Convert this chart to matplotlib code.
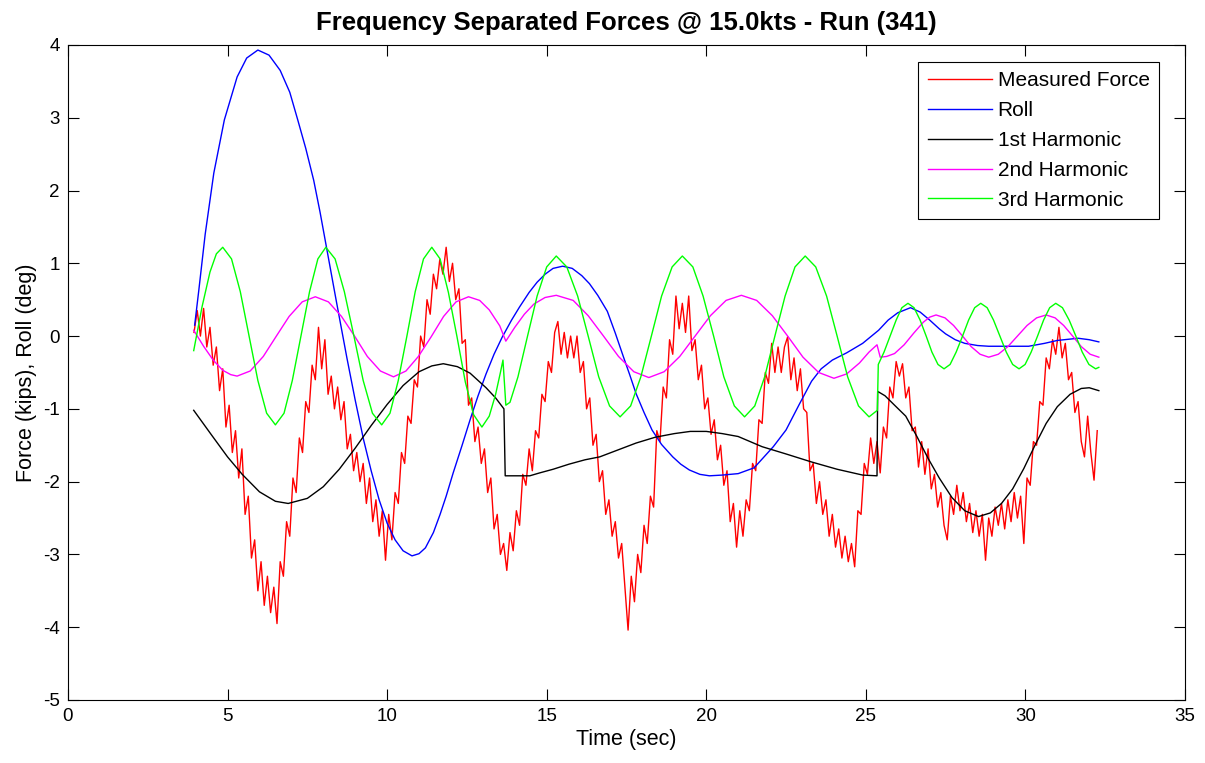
import numpy as np
import matplotlib
matplotlib.use("Agg")
import matplotlib.pyplot as plt

plt.rcParams['font.family'] = ['Liberation Sans', 'DejaVu Sans']
plt.rcParams['axes.unicode_minus'] = False

# measured force, sampled every 0.1 s from 3.95 s
force_t0 = 3.95
force_dt = 0.1
measured_force = [
    0.05, 0.35, 0.0, 0.38, -0.15, 0.12, -0.4, -0.15, -0.75, -0.45,
    -1.25, -0.95, -1.6, -1.3, -1.95, -1.55, -2.45, -2.2, -3.05, -2.8,
    -3.5, -3.1, -3.7, -3.3, -3.8, -3.45, -3.95, -3.1, -3.3, -2.55,
    -2.75, -1.95, -2.15, -1.4, -1.6, -0.9, -1.05, -0.4, -0.6, 0.12,
    -0.45, -0.05, -0.8, -0.55, -1.0, -0.7, -1.15, -0.9, -1.55, -1.35,
    -1.85, -1.6, -2.0, -1.75, -2.3, -1.95, -2.55, -2.25, -2.75, -2.4,
    -3.08, -2.45, -2.8, -2.15, -2.3, -1.6, -1.75, -1.1, -1.2, -0.6,
    -0.7, 0.0, -0.15, 0.5, 0.3, 0.85, 0.65, 1.05, 0.85, 1.22,
    0.75, 1.0, 0.5, 0.65, -0.1, -0.05, -0.95, -0.85, -1.45, -1.25,
    -1.75, -1.55, -2.15, -1.95, -2.65, -2.45, -3.0, -2.85, -3.22, -2.7,
    -2.95, -2.4, -2.6, -1.9, -2.05, -1.55, -1.85, -1.3, -1.4, -0.8,
    -0.9, -0.35, -0.5, 0.05, 0.2, -0.25, 0.05, -0.3, 0.0, -0.3,
    0.0, -0.5, -0.35, -1.0, -0.85, -1.5, -1.35, -2.0, -1.85, -2.45,
    -2.25, -2.75, -2.55, -3.05, -2.85, -3.45, -4.04, -3.3, -3.65, -3.0,
    -3.25, -2.6, -2.85, -2.2, -2.35, -1.3, -1.45, -0.7, -0.85, -0.05,
    -0.25, 0.55, 0.1, 0.45, 0.05, 0.55, -0.2, -0.05, -0.6, -0.4,
    -1.0, -0.85, -1.35, -1.15, -1.7, -1.5, -2.05, -1.85, -2.55, -2.3,
    -2.9, -2.4, -2.75, -2.25, -2.4, -1.75, -1.85, -1.15, -1.2, -0.5,
    -0.65, -0.1, -0.5, -0.15, -0.5, -0.15, -0.01, -0.6, -0.3, -0.75,
    -0.45, -1.0, -1.05, -1.85, -1.75, -2.3, -2.0, -2.45, -2.25, -2.75,
    -2.45, -2.9, -2.65, -3.05, -2.75, -3.1, -2.85, -3.17, -2.4, -2.45,
    -1.75, -1.9, -1.4, -1.75, -1.45, -1.88, -1.25, -1.4, -0.7, -0.85,
    -0.35, -0.55, -0.38, -0.85, -0.7, -1.3, -1.25, -1.8, -1.45, -1.9,
    -1.55, -2.1, -1.9, -2.35, -2.15, -2.6, -2.8, -2.2, -2.45, -2.05,
    -2.4, -2.15, -2.55, -2.3, -2.7, -2.4, -2.75, -2.45, -3.08, -2.5,
    -2.75, -2.35, -2.6, -2.3, -2.65, -2.25, -2.55, -2.15, -2.5, -2.2,
    -2.85, -1.95, -2.05, -1.45, -1.5, -0.9, -0.95, -0.3, -0.45, -0.05,
    -0.25, 0.12, -0.3, -0.1, -0.6, -0.5, -1.05, -0.9, -1.45, -1.66,
    -1.1, -1.6, -1.98, -1.3,
]

roll_t = [3.97, 4.1, 4.3, 4.57, 4.9, 5.3, 5.6, 5.95, 6.3, 6.65, 6.95, 7.2, 7.45,
          7.7, 7.9, 8.1, 8.4, 8.74, 9.0, 9.26, 9.5, 9.75, 10.0, 10.25, 10.5,
          10.78, 11.0, 11.2, 11.45, 11.66, 11.85, 12.07, 12.35, 12.6, 12.85,
          13.1, 13.35, 13.6, 13.9, 14.15, 14.45, 14.7, 14.95, 15.2, 15.5, 15.8,
          16.1, 16.34, 16.6, 16.9, 17.15, 17.4, 17.6, 17.8, 18.05, 18.3, 18.6,
          18.95, 19.2, 19.47, 19.8, 20.1, 20.5, 21.0, 21.5, 22.1, 22.5, 22.9,
          23.3, 23.6, 23.95, 24.4, 24.9, 25.4, 25.7, 26.0, 26.4, 26.7, 27.0,
          27.3, 27.5, 27.8, 28.1, 28.5, 28.85, 29.5, 30.1, 30.6, 31.0, 31.65,
          32.0, 32.3]
roll = [0.15, 0.63, 1.4, 2.24, 2.97, 3.56, 3.82, 3.93, 3.86, 3.65, 3.35, 2.97,
        2.58, 2.14, 1.7, 1.22, 0.5, -0.3, -0.88, -1.42, -1.85, -2.25, -2.57,
        -2.8, -2.95, -3.02, -2.99, -2.91, -2.7, -2.45, -2.2, -1.88, -1.5, -1.15,
        -0.82, -0.52, -0.25, -0.02, 0.22, 0.4, 0.6, 0.74, 0.85, 0.93, 0.96,
        0.93, 0.83, 0.72, 0.56, 0.34, 0.04, -0.28, -0.53, -0.79, -1.05, -1.29,
        -1.49, -1.66, -1.76, -1.84, -1.9, -1.92, -1.91, -1.89, -1.81, -1.52,
        -1.29, -0.95, -0.62, -0.45, -0.33, -0.23, -0.1, 0.08, 0.22, 0.32, 0.39,
        0.33, 0.22, 0.1, 0.03, -0.05, -0.1, -0.13, -0.14, -0.14, -0.14, -0.1,
        -0.06, -0.03, -0.05, -0.08]

harm1_t = [3.94, 4.5, 5.0, 5.46, 6.0, 6.5, 6.9, 7.5, 8.0, 8.5, 9.0, 9.5, 10.0,
           10.5, 11.0, 11.4, 11.76, 12.2, 12.6, 12.9, 13.1, 13.4, 13.66, 13.7,
           14.47, 14.78, 15.2, 15.7, 16.2, 16.66, 17.2, 17.8, 18.4, 19.0, 19.5,
           20.0, 20.5, 21.0, 21.75, 22.5, 23.3, 24.1, 24.9, 25.35, 25.37, 25.6,
           25.9, 26.25, 26.6, 26.95, 27.3, 27.7, 28.1, 28.53, 28.9, 29.25, 29.6,
           29.95, 30.3, 30.65, 31.0, 31.4, 31.75, 32.0, 32.3]
harm1 = [-1.02, -1.36, -1.66, -1.9, -2.14, -2.27, -2.3, -2.23, -2.07, -1.83,
         -1.54, -1.23, -0.94, -0.68, -0.49, -0.41, -0.38, -0.42, -0.51, -0.63,
         -0.71, -0.85, -1.0, -1.92, -1.92, -1.88, -1.83, -1.76, -1.7, -1.66,
         -1.57, -1.47, -1.39, -1.34, -1.31, -1.31, -1.34, -1.38, -1.52, -1.62,
         -1.73, -1.83, -1.91, -1.92, -0.76, -0.82, -0.95, -1.1, -1.38, -1.68,
         -1.95, -2.22, -2.4, -2.48, -2.43, -2.3, -2.1, -1.82, -1.5, -1.2, -0.97,
         -0.8, -0.72, -0.71, -0.75]

harm2_t = [3.94, 4.25, 4.55, 4.85, 5.1, 5.3, 5.71, 6.12, 6.53, 6.93, 7.34, 7.75,
           8.16, 8.57, 8.98, 9.38, 9.79, 10.2, 10.59, 10.98, 11.38, 11.77, 12.16,
           12.55, 12.9, 13.2, 13.53, 13.72, 14.0, 14.3, 14.6, 14.95, 15.3, 15.83,
           16.3, 16.78, 17.25, 17.73, 18.2, 18.68, 19.17, 19.65, 20.13, 20.62,
           21.1, 21.58, 22.07, 22.55, 23.03, 23.52, 24.0, 24.4, 24.8, 25.1,
           25.35, 25.45, 25.65, 25.9, 26.2, 26.5, 26.8, 27.0, 27.2, 27.48, 27.75,
           28.03, 28.3, 28.58, 28.85, 29.15, 29.45, 29.75, 30.05, 30.35, 30.65,
           30.93, 31.2, 31.48, 31.75, 32.03, 32.3]
harm2 = [0.08, -0.14, -0.33, -0.47, -0.53, -0.55, -0.48, -0.28, 0.0, 0.27, 0.47,
         0.54, 0.47, 0.27, 0.0, -0.28, -0.48, -0.56, -0.48, -0.28, -0.01, 0.27,
         0.47, 0.54, 0.49, 0.36, 0.14, -0.07, 0.12, 0.3, 0.44, 0.53, 0.56, 0.49,
         0.28, 0.0, -0.28, -0.49, -0.57, -0.49, -0.28, 0.0, 0.28, 0.49, 0.56,
         0.49, 0.28, 0.0, -0.29, -0.5, -0.58, -0.52, -0.37, -0.22, -0.12, -0.29,
         -0.28, -0.24, -0.12, 0.04, 0.19, 0.26, 0.29, 0.25, 0.145, 0.0, -0.145,
         -0.25, -0.29, -0.25, -0.145, 0.0, 0.145, 0.25, 0.29, 0.25, 0.145, 0.0,
         -0.145, -0.25, -0.29]

harm3_t = [3.94, 4.2, 4.45, 4.65, 4.85, 5.125, 5.4, 5.675, 5.95, 6.225, 6.5, 6.77,
           7.03, 7.3, 7.57, 7.83, 8.08, 8.37, 8.66, 8.96, 9.25, 9.54, 9.83,
           10.09, 10.35, 10.62, 10.88, 11.14, 11.4, 11.66, 11.92, 12.19, 12.45,
           12.71, 12.97, 13.2, 13.4, 13.55, 13.63, 13.72, 13.85, 14.1, 14.4,
           14.7, 15.0, 15.3, 15.63, 15.97, 16.3, 16.63, 16.97, 17.3, 17.63,
           17.95, 18.28, 18.6, 18.93, 19.25, 19.58, 19.9, 20.23, 20.55, 20.88,
           21.2, 21.52, 21.83, 22.15, 22.47, 22.78, 23.1, 23.43, 23.77, 24.1,
           24.43, 24.77, 25.1, 25.36, 25.39, 25.57, 25.76, 25.95, 26.13, 26.32,
           26.51, 26.7, 26.89, 27.07, 27.26, 27.45, 27.64, 27.83, 28.03, 28.22,
           28.41, 28.6, 28.8, 29.0, 29.2, 29.4, 29.6, 29.8, 29.99, 30.18, 30.38,
           30.57, 30.76, 30.95, 31.16, 31.37, 31.58, 31.78, 31.99, 32.2, 32.3]
harm3 = [-0.2, 0.4, 0.88, 1.13, 1.22, 1.06, 0.61, 0.0, -0.61, -1.06, -1.22,
         -1.06, -0.61, 0.0, 0.61, 1.06, 1.22, 1.06, 0.61, 0.0, -0.61, -1.06,
         -1.22, -1.06, -0.61, 0.0, 0.61, 1.06, 1.22, 1.06, 0.6, -0.01, -0.63,
         -1.08, -1.25, -1.1, -0.8, -0.5, -0.33, -0.95, -0.91, -0.56, 0.0, 0.55,
         0.95, 1.1, 0.95, 0.55, 0.0, -0.56, -0.96, -1.11, -0.96, -0.56, 0.0,
         0.55, 0.95, 1.1, 0.95, 0.55, 0.0, -0.56, -0.96, -1.11, -0.96, -0.56,
         0.0, 0.55, 0.95, 1.1, 0.95, 0.55, 0.0, -0.56, -0.96, -1.11, -1.02,
         -0.39, -0.22, 0.0, 0.22, 0.39, 0.45, 0.39, 0.22, 0.0, -0.22, -0.39,
         -0.45, -0.39, -0.22, 0.0, 0.22, 0.39, 0.45, 0.39, 0.22, 0.0, -0.22,
         -0.39, -0.45, -0.39, -0.22, 0.0, 0.22, 0.39, 0.45, 0.39, 0.22, 0.0,
         -0.22, -0.39, -0.45, -0.43]

force_t = force_t0 + force_dt * np.arange(len(measured_force))

fig = plt.figure(figsize=(12.05, 7.63), dpi=100)
ax = fig.add_axes([0.0564, 0.0826, 0.927, 0.8585])

ax.plot(force_t, measured_force, color='#ff0000', lw=1.0, label='Measured Force')
ax.plot(roll_t, roll, color='#0000ff', lw=1.0, label='Roll')
ax.plot(harm1_t, harm1, color='black', lw=1.0, label='1st Harmonic')
ax.plot(harm2_t, harm2, color='#ff00ff', lw=1.0, label='2nd Harmonic')
ax.plot(harm3_t, harm3, color='#00ff00', lw=1.0, label='3rd Harmonic')

ax.set_xlim(0, 35)
ax.set_ylim(-5, 4)
ax.set_xticks(range(0, 36, 5))
ax.set_yticks(range(-5, 5))
ax.tick_params(direction='in', top=True, right=True, length=8, width=0.8,
               labelsize=13.5, pad=6)
for s in ax.spines.values():
    s.set_linewidth(0.8)

ax.set_title('Frequency Separated Forces @ 15.0kts - Run (341)',
             fontsize=18.5, fontweight='bold', pad=11)
ax.set_xlabel('Time (sec)', fontsize=15.5, labelpad=3)
ax.set_ylabel('Force (kips), Roll (deg)', fontsize=15.5, labelpad=4)

leg = ax.legend(loc='upper right', bbox_to_anchor=(0.9767, 0.974),
                borderaxespad=0, fontsize=15, fancybox=False, framealpha=1,
                edgecolor='black', handlelength=3.1, handletextpad=0.25,
                labelspacing=0.52, borderpad=0.45)
leg.get_frame().set_linewidth(0.8)

fig.savefig('out.png', dpi=100)
